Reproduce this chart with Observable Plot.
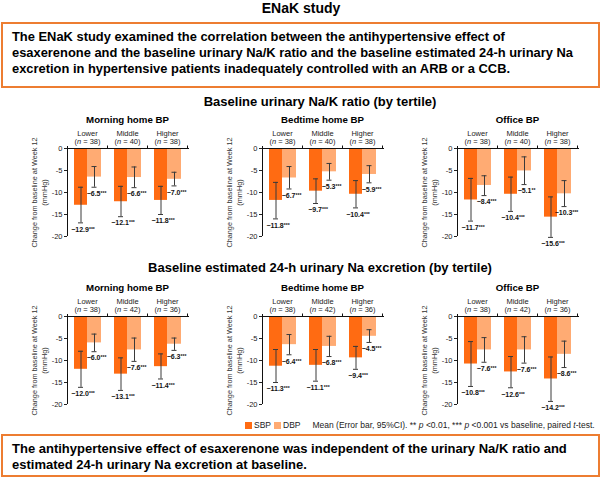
<!DOCTYPE html>
<html>
<head>
<meta charset="utf-8">
<script src="https://cdn.jsdelivr.net/npm/d3@7"></script>
<script src="https://cdn.jsdelivr.net/npm/@observablehq/plot@0.6"></script>
<style>
  html, body { margin: 0; padding: 0; background: #fff; }
  #root { position: relative; width: 602px; height: 477px; overflow: hidden; font-family: "Liberation Sans", Arial, sans-serif; color: #000; }
  .abs { position: absolute; }
  .hdr { left: 0; top: 0; width: 602px; text-align: center; font-weight: bold; font-size: 14px; line-height: 16px; }
  .box { box-sizing: border-box; border: 2px solid #ED7D31; font-weight: bold; white-space: nowrap; }
  .sec { left: 40px; width: 560px; text-align: center; font-weight: bold; font-size: 13px; line-height: 16px; }
  .legend { left: 245px; top: 419px; height: 12px; display: flex; align-items: center; font-size: 8.5px; line-height: 12px; white-space: nowrap; color: #222; }
  .sw { display: inline-block; width: 7px; height: 7px; margin-right: 2px; }
</style>
</head>
<body>
<div id="root">
  <div class="abs hdr">ENaK study</div>
  <div class="abs box" style="left:1px; top:22px; width:599px; height:66px; padding:5px 0 0 9px; font-size:12.9px; line-height:16px;">The ENaK study examined the correlation between the antihypertensive effect of<br>esaxerenone and the baseline urinary Na/K ratio and the baseline estimated 24-h urinary Na<br>excretion in hypertensive patients inadequately controlled with an ARB or a CCB.</div>
  <div class="abs sec" id="sec1" style="top:94px;"></div>
  <div class="abs sec" id="sec2" style="top:260px;"></div>
  <div class="abs legend" id="legend"></div>
  <div class="abs box" style="left:1px; top:434px; width:599px; height:43px; padding:5px 0 0 9px; font-size:13px; line-height:15.5px;">The antihypertensive effect of esaxerenone was independent of the urinary Na/K ratio and<br>estimated 24-h urinary Na excretion at baseline.</div>
</div>
<script>
// ---------- data ----------
const sectionTitles = ["Baseline urinary Na/K ratio (by tertile)", "Baseline estimated 24-h urinary Na excretion (by tertile)"];
const panels = ["Morning home BP", "Bedtime home BP", "Office BP"];
const groups = ["Lower", "Middle", "Higher"];
const nNaK = [38, 40, 38];
const nNa = [38, 42, 36];
const yTicks = [0, -5, -10, -15, -20];
const yLabel = "Change from baseline at Week 12\n(mmHg)";
const series = ["SBP", "DBP"];

// Na/K ratio section: rows = panels, cols = tertiles
const nakSBP   = [[-12.9, -12.1, -11.8], [-11.8, -9.7, -10.4], [-11.7, -10.4, -15.6]];
const nakSBPlo = [[-16.9, -15.5, -15.0], [-16.0, -12.5, -13.5], [-16.5, -14.3, -20.2]];
const nakSBPhi = [[-8.8, -8.6, -8.6], [-7.7, -6.9, -7.3], [-6.8, -6.5, -11.0]];
const nakDBP   = [[-6.5, -6.6, -7.0], [-6.7, -5.3, -5.9], [-8.4, -5.1, -10.3]];
const nakDBPlo = [[-8.8, -8.9, -8.5], [-9.2, -7.2, -7.8], [-10.7, -8.2, -13.2]];
const nakDBPhi = [[-4.1, -4.2, -5.4], [-4.1, -3.4, -3.9], [-6.2, -1.9, -7.3]];
const nakSBPsig = [["***", "***", "***"], ["***", "***", "***"], ["***", "***", "***"]];
const nakDBPsig = [["***", "***", "***"], ["***", "***", "***"], ["***", "**", "***"]];

// Estimated 24-h urinary Na excretion section
const naSBP   = [[-12.0, -13.1, -11.4], [-11.3, -11.1, -9.4], [-10.8, -12.6, -14.2]];
const naSBPlo = [[-16.1, -16.8, -14.2], [-15.0, -14.7, -12.0], [-15.9, -16.2, -19.3]];
const naSBPhi = [[-7.9, -9.4, -8.5], [-7.5, -7.5, -6.8], [-5.7, -9.1, -9.2]];
const naDBP   = [[-6.0, -7.6, -6.3], [-6.4, -6.8, -4.5], [-7.6, -7.6, -8.6]];
const naDBPlo = [[-8.0, -10.2, -7.7], [-8.7, -9.1, -5.9], [-10.4, -10.6, -11.6]];
const naDBPhi = [[-4.0, -4.9, -4.9], [-4.1, -4.5, -3.0], [-4.8, -4.6, -5.6]];
const naSBPsig = [["***", "***", "***"], ["***", "***", "***"], ["***", "***", "***"]];
const naDBPsig = [["***", "***", "***"], ["***", "***", "***"], ["***", "***", "***"]];

const colors = { SBP: "#FF6B12", DBP: "#FFAB73" };

// ---------- layout constants ----------
const PW = 120, PH = 88, ML = 45, MR = 12, MT = 36, MB = 16;
const BW = PW / groups.length;
const panelLeft = [22, 217, 412];
const rowTop = [112, 280];
const BAR = { SBP: [7, 20], DBP: [20, 34] }; // offsets within a band (px)
const CAP = 2.5;

const sections = [
  { title: sectionTitles[0], n: nNaK, SBP: [nakSBP, nakSBPlo, nakSBPhi, nakSBPsig], DBP: [nakDBP, nakDBPlo, nakDBPhi, nakDBPsig] },
  { title: sectionTitles[1], n: nNa,  SBP: [naSBP, naSBPlo, naSBPhi, naSBPsig],     DBP: [naDBP, naDBPlo, naDBPhi, naDBPsig] }
];

function fmt(v) { return "\u2212" + Math.abs(v).toFixed(1); }

function makePanel(sec, p) {
  const rows = [];
  for (const s of series) {
    const [m, lo, hi, sig] = sec[s];
    groups.forEach((g, i) => rows.push({ series: s, group: g, value: m[p][i], lo: lo[p][i], hi: hi[p][i], label: fmt(m[p][i]) + sig[p][i] }));
  }
  const marks = [];
  for (const s of series) {
    const d = rows.filter(r => r.series === s);
    const [a, b] = BAR[s];
    const c = (a + b) / 2;
    marks.push(Plot.barY(d, { x: "group", y: "value", fill: colors[s], insetLeft: a, insetRight: BW - b }));
    marks.push(Plot.ruleX(d, { x: "group", y1: "lo", y2: "hi", dx: c - BW / 2, stroke: "#3a3a3a", strokeWidth: 1 }));
    marks.push(Plot.tickY(d, { x: "group", y: "lo", insetLeft: c - CAP, insetRight: BW - c - CAP, stroke: "#3a3a3a", strokeWidth: 1 }));
    marks.push(Plot.tickY(d, { x: "group", y: "hi", insetLeft: c - CAP, insetRight: BW - c - CAP, stroke: "#3a3a3a", strokeWidth: 1 }));
    marks.push(Plot.text(d, { x: "group", y: "lo", text: "label", dx: c - BW / 2 + 2, dy: 6.5, lineAnchor: "middle", textAnchor: "middle", fontWeight: "bold", fontSize: 7, fill: "#111" }));
  }
  marks.push(Plot.ruleY([0], { stroke: "#111", strokeWidth: 1, insetRight: -2 }));
  marks.push(Plot.ruleX([groups[0]], { dx: -BW / 2, stroke: "#111", strokeWidth: 1, insetTop: -2 }));
  marks.push(Plot.axisX({ anchor: "top", tickSize: 3.5, tickFormat: () => "", label: null, dx: BW / 2, stroke: "#111" }));
  marks.push(Plot.axisY({ ticks: yTicks, tickSize: 3, tickPadding: 2, tickFormat: d => String(d), label: null, fontSize: 7.5, color: "#222" }));
  marks.push(Plot.text(groups, { x: d => d, text: d => d, frameAnchor: "top", lineAnchor: "middle", textAnchor: "middle", dy: -15, fontSize: 7.5, fill: "#222" }));
  marks.push(Plot.text(groups, { x: d => d, text: (d, i) => `(n = ${sec.n[i]})`, frameAnchor: "top", lineAnchor: "middle", textAnchor: "middle", dy: -6.5, fontSize: 7.5, fill: "#222" }));
  marks.push(Plot.text([panels[p]], { text: d => d, frameAnchor: "top", lineAnchor: "middle", textAnchor: "middle", dy: -28.5, fontSize: 9.7, fontWeight: "bold", fill: "#000" }));
  marks.push(Plot.text([yLabel], { text: d => d, frameAnchor: "left", textAnchor: "middle", lineAnchor: "middle", rotate: -90, dx: -29, lineHeight: 1.45, fontSize: 7.3, fill: "#333" }));

  const svg = Plot.plot({
    width: ML + PW + MR,
    height: MT + PH + MB,
    marginLeft: ML, marginRight: MR, marginTop: MT, marginBottom: MB,
    x: { type: "band", domain: groups, padding: 0 },
    y: { domain: [-20, 0] },
    style: { fontFamily: "Liberation Sans, Arial, sans-serif", background: "transparent", overflow: "visible", color: "#222" },
    marks
  });
  // italic n and small asterisks
  d3.select(svg).selectAll("text").each(function () {
    const el = this;
    if (el.querySelector("tspan")) return;
    const t = el.textContent;
    let m;
    if ((m = t.match(/^\(n = (\d+)\)$/))) {
      el.textContent = "";
      el.append("(");
      const ts = document.createElementNS("http://www.w3.org/2000/svg", "tspan");
      ts.setAttribute("font-style", "italic"); ts.textContent = "n";
      el.appendChild(ts);
      el.append(` = ${m[1]})`);
    } else if ((m = t.match(/^(\u2212[\d.]+)(\*+)$/))) {
      el.textContent = "";
      el.append(m[1]);
      const ts = document.createElementNS("http://www.w3.org/2000/svg", "tspan");
      ts.setAttribute("font-size", "5"); ts.setAttribute("dy", "-1"); ts.textContent = m[2];
      el.appendChild(ts);
    }
  });
  return svg;
}

const root = document.getElementById("root");
document.getElementById("sec1").textContent = sections[0].title;
document.getElementById("sec2").textContent = sections[1].title;
sections.forEach((sec, r) => {
  panels.forEach((_, p) => {
    const div = document.createElement("div");
    div.className = "abs";
    div.style.left = panelLeft[p] + "px";
    div.style.top = rowTop[r] + "px";
    div.appendChild(makePanel(sec, p));
    root.appendChild(div);
  });
});

// legend
const lg = document.getElementById("legend");
series.forEach(s => {
  const sw = document.createElement("span"); sw.className = "sw"; sw.style.background = colors[s];
  lg.appendChild(sw);
  const tx = document.createElement("span"); tx.textContent = s; tx.style.marginRight = s === "SBP" ? "3px" : "12px";
  lg.appendChild(tx);
});
const note = document.createElement("span");
note.innerHTML = "Mean (Error bar, 95%CI). ** <i>p</i> &lt;0.01, *** <i>p</i> &lt;0.001 vs baseline, paired <i>t</i>-test.";
lg.appendChild(note);
</script>
</body>
</html>
